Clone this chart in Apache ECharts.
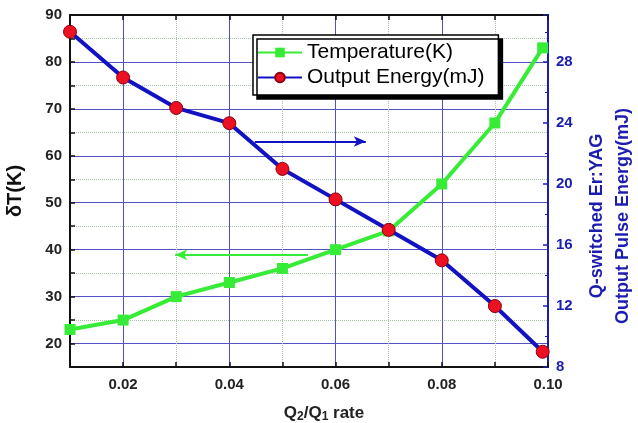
<!DOCTYPE html>
<html>
<head>
<meta charset="utf-8">
<script src="https://cdn.jsdelivr.net/npm/echarts@6/dist/echarts.min.js"></script>
<style>
  html, body { margin: 0; padding: 0; background: #fff; }
  #main { width: 638px; height: 423px; }
</style>
</head>
<body>
<div id="main"></div>
<script>
// Q2/Q1 rate on the x axis
var rates = [0.01, 0.02, 0.03, 0.04, 0.05, 0.06, 0.07, 0.08, 0.09, 0.099];
// temperature rise (left axis, K)
var temperature = [23, 25, 30, 33, 36, 40, 44, 54, 67, 83];
// output pulse energy (right axis, mJ)
var energy = [30, 27, 25, 24, 21, 19, 17, 15, 12, 9];
// arrows that point each curve to its axis: [xFrom, xTo, y]
var energyArrow = [0.0448, 0.0657, 22.8];
var tempArrow = [0.0548, 0.0298, 38.9];

var font = '"Liberation Sans", Arial, sans-serif';
var gridBlue = '#5252c0';
var dotColor = '#a9c4a9';
var axisBlue = '#1c1cb0';

function pairs(xs, ys) {
    return xs.map(function (x, i) { return [x, ys[i]]; });
}

var myChart = echarts.init(document.getElementById('main'));

option = {
    backgroundColor: '#fff',
    animation: false,
    grid: { left: 70, right: 90, top: 15, bottom: 56, outerBoundsMode: 'none' },
    legend: {
        orient: 'vertical',
        left: 253,
        top: 35,
        padding: [7, 14, 7, 4],
        itemGap: 4,
        itemWidth: 44,
        itemHeight: 12,
        backgroundColor: '#fff',
        borderColor: '#000',
        borderWidth: 1.5,
        borderRadius: 0,
        shadowColor: '#000',
        shadowBlur: 0,
        shadowOffsetX: 4,
        shadowOffsetY: 4,
        textStyle: { fontFamily: font, fontSize: 21, color: '#000' },
        data: ['Temperature(K)', 'Output Energy(mJ)']
    },
    xAxis: [
        {
            type: 'value', position: 'bottom',
            min: 0.01, max: 0.1, interval: 0.01,
            name: 'Q{sub|2}/Q{sub|1} rate',
            nameLocation: 'middle', nameGap: 36,
            nameTextStyle: {
                fontFamily: font, fontSize: 17, fontWeight: 'bold', color: '#222',
                padding: [0, 0, 0, 30],
                rich: { sub: { fontFamily: font, fontSize: 12, fontWeight: 'bold', color: '#222', verticalAlign: 'bottom', padding: [8, 0, 0, 0] } }
            },
            axisLine: { lineStyle: { color: '#111', width: 2 } },
            axisTick: { inside: true, length: 5, lineStyle: { color: '#111', width: 1.5 } },
            axisLabel: {
                fontFamily: font, fontSize: 15, fontWeight: 'bold', color: '#222', margin: 10,
                formatter: function (v) {
                    var h = Math.round(v * 100);
                    return (h % 2 === 0) ? v.toFixed(2) : '';
                }
            },
            splitLine: { show: true, lineStyle: { color: ['transparent', gridBlue], width: 1 } }
        },
        {
            type: 'value', position: 'top',
            min: 0.01, max: 0.1, interval: 0.01,
            axisLine: { lineStyle: { color: '#111', width: 2 } },
            axisTick: { inside: true, length: 5, lineStyle: { color: '#111', width: 1.5 } },
            axisLabel: { show: false },
            splitLine: { show: true, lineStyle: { color: [dotColor, 'transparent'], width: 1, type: 'dotted' } }
        }
    ],
    yAxis: [
        {
            type: 'value', position: 'left',
            min: 15, max: 90, interval: 5,
            name: 'δT(K)',
            nameLocation: 'middle', nameGap: 45, nameRotate: 90,
            nameTextStyle: { fontFamily: font, fontSize: 20, fontWeight: 'bold', color: '#111' },
            axisLine: { lineStyle: { color: '#111', width: 2 } },
            axisTick: { inside: true, length: 5, lineStyle: { color: '#111', width: 1.5 } },
            axisLabel: {
                fontFamily: font, fontSize: 15, fontWeight: 'bold', color: '#222', margin: 8,
                formatter: function (v) { return (v % 10 === 0) ? String(v) : ''; }
            },
            splitLine: { show: true, lineStyle: { color: ['transparent', gridBlue], width: 1 } }
        },
        {
            type: 'value', position: 'right',
            min: 8, max: 31.1, interval: 4,
            name: 'Q-switched Er:YAG\nOutput Pulse Energy(mJ)',
            nameLocation: 'middle', nameGap: 35, nameRotate: 90,
            nameTextStyle: {
                fontFamily: font, fontSize: 18, fontWeight: 'bold', color: axisBlue,
                lineHeight: 26, padding: [0, 50, 0, 0]
            },
            axisLine: { lineStyle: { color: axisBlue, width: 2 } },
            axisTick: { inside: true, length: 5, lineStyle: { color: axisBlue, width: 1.5 } },
            minorTick: { show: true, splitNumber: 2, length: 3, lineStyle: { color: axisBlue } },
            axisLabel: {
                fontFamily: font, fontSize: 15, fontWeight: 'bold', color: axisBlue, margin: 8,
                formatter: function (v) { return (v % 4 === 0) ? String(v) : ''; }
            },
            splitLine: { show: false }
        },
        {
            type: 'value', position: 'left',
            min: 15, max: 90, interval: 5,
            axisLine: { show: false },
            axisTick: { show: false },
            axisLabel: { show: false },
            splitLine: { show: true, lineStyle: { color: [dotColor, 'transparent'], width: 1, type: 'dotted' } }
        }
    ],
    series: [
        {
            name: 'Temperature(K)',
            type: 'line',
            xAxisIndex: 0, yAxisIndex: 0,
            data: pairs(rates, temperature),
            symbol: 'rect', symbolSize: 11,
            itemStyle: { color: '#36ec36' },
            lineStyle: { color: '#36ec36', width: 4 },
            markLine: {
                silent: true,
                symbol: ['none', 'arrow'], symbolSize: [8, 12],
                label: { show: false },
                lineStyle: { color: '#36ec36', width: 2, type: 'solid' },
                data: [[{ coord: [tempArrow[0], tempArrow[2]] }, { coord: [tempArrow[1], tempArrow[2]] }]]
            },
            z: 3
        },
        {
            name: 'Output Energy(mJ)',
            type: 'line',
            xAxisIndex: 0, yAxisIndex: 1,
            data: pairs(rates, energy),
            symbol: 'circle', symbolSize: 13,
            itemStyle: { color: '#ec1020', borderColor: '#8a0010', borderWidth: 1 },
            lineStyle: { color: '#1212c2', width: 4 },
            markLine: {
                silent: true,
                symbol: ['none', 'arrow'], symbolSize: [8, 12],
                label: { show: false },
                lineStyle: { color: '#1212c2', width: 2, type: 'solid' },
                data: [[{ coord: [energyArrow[0], energyArrow[2]] }, { coord: [energyArrow[1], energyArrow[2]] }]]
            },
            z: 4
        }
    ]
};
myChart.setOption(option);
</script>
</body>
</html>
